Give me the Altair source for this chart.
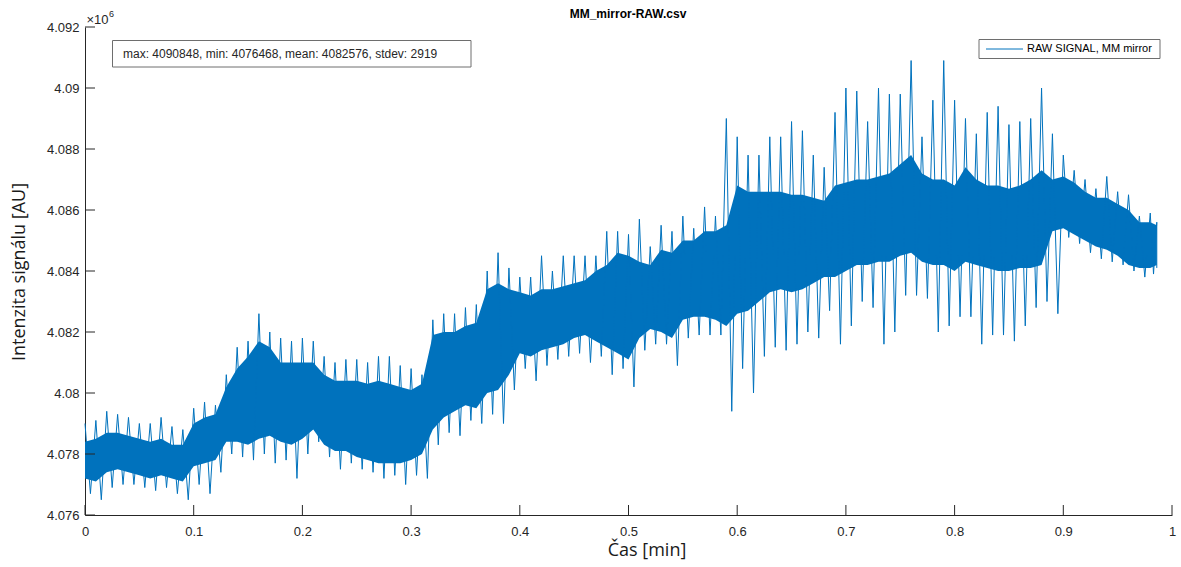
import altair as alt
import pandas as pd

# ---- data (values in units of 10^6) ----
time_min = [round(i / 100, 2) for i in range(99)] + [0.986]

spike_hi = [
    4.0790, 4.0791, 4.0794, 4.0793, 4.0792, 4.0790, 4.0790, 4.0792, 4.0789, 4.0788,
    4.0795, 4.0797, 4.0796, 4.0806, 4.0815, 4.0817, 4.0826, 4.0820, 4.0818, 4.0817,
    4.0818, 4.0817, 4.0812, 4.0810, 4.0811, 4.0811, 4.0810, 4.0812, 4.0812, 4.0809,
    4.0808, 4.0806, 4.0824, 4.0826, 4.0826, 4.0828, 4.0829, 4.0840, 4.0846, 4.0841,
    4.0838, 4.0838, 4.0845, 4.0840, 4.0845, 4.0845, 4.0845, 4.0845, 4.0853, 4.0853,
    4.0852, 4.0857, 4.0848, 4.0855, 4.0853, 4.0858, 4.0854, 4.0861, 4.0858, 4.0890,
    4.0884, 4.0878, 4.0878, 4.0884, 4.0884, 4.0889, 4.0886, 4.0878, 4.0874, 4.0892,
    4.0900, 4.0899, 4.0889, 4.0900, 4.0898, 4.0898, 4.0909, 4.0884, 4.0896, 4.0909,
    4.0896, 4.0890, 4.0885, 4.0892, 4.0894, 4.0888, 4.0889, 4.0890, 4.0900, 4.0885,
    4.0878, 4.0873, 4.0870, 4.0867, 4.0871, 4.0866, 4.0865, 4.0858, 4.0859, 4.0856,
]
core_hi = [
    4.0784, 4.0785, 4.0787, 4.0787, 4.0786, 4.0785, 4.0784, 4.0785, 4.0783, 4.0783,
    4.0790, 4.0792, 4.0793, 4.0802, 4.0808, 4.0812, 4.0817, 4.0815, 4.0810, 4.0810,
    4.0810, 4.0810, 4.0806, 4.0804, 4.0804, 4.0804, 4.0803, 4.0804, 4.0803, 4.0802,
    4.0801, 4.0803, 4.0819, 4.0820, 4.0820, 4.0822, 4.0823, 4.0834, 4.0836, 4.0834,
    4.0833, 4.0832, 4.0834, 4.0834, 4.0835, 4.0836, 4.0837, 4.0840, 4.0842, 4.0846,
    4.0845, 4.0843, 4.0842, 4.0847, 4.0846, 4.0850, 4.0850, 4.0853, 4.0853, 4.0855,
    4.0868, 4.0866, 4.0866, 4.0866, 4.0866, 4.0865, 4.0865, 4.0864, 4.0863, 4.0868,
    4.0869, 4.0870, 4.0870, 4.0871, 4.0872, 4.0875, 4.0878, 4.0872, 4.0870, 4.0870,
    4.0868, 4.0874, 4.0870, 4.0868, 4.0868, 4.0867, 4.0868, 4.0870, 4.0873, 4.0870,
    4.0871, 4.0869, 4.0866, 4.0864, 4.0864, 4.0862, 4.0860, 4.0856, 4.0856, 4.0855,
]
core_lo = [
    4.0772, 4.0771, 4.0774, 4.0775, 4.0774, 4.0773, 4.0772, 4.0773, 4.0772, 4.0771,
    4.0776, 4.0777, 4.0778, 4.0784, 4.0784, 4.0783, 4.0785, 4.0786, 4.0784, 4.0783,
    4.0785, 4.0788, 4.0783, 4.0781, 4.0781, 4.0779, 4.0778, 4.0777, 4.0777, 4.0777,
    4.0778, 4.0780, 4.0788, 4.0792, 4.0794, 4.0796, 4.0795, 4.0800, 4.0801, 4.0806,
    4.0813, 4.0812, 4.0814, 4.0815, 4.0816, 4.0818, 4.0819, 4.0817, 4.0815, 4.0813,
    4.0811, 4.0818, 4.0821, 4.0820, 4.0818, 4.0824, 4.0825, 4.0825, 4.0824, 4.0822,
    4.0826, 4.0827, 4.0830, 4.0833, 4.0834, 4.0833, 4.0834, 4.0836, 4.0838, 4.0838,
    4.0840, 4.0842, 4.0842, 4.0843, 4.0843, 4.0845, 4.0846, 4.0843, 4.0842, 4.0842,
    4.0840, 4.0843, 4.0842, 4.0841, 4.0840, 4.0840, 4.0841, 4.0841, 4.0842, 4.0853,
    4.0854, 4.0852, 4.0850, 4.0848, 4.0847, 4.0845, 4.0842, 4.0841, 4.0841, 4.0842,
]
spike_lo = [
    4.0767, 4.0765, 4.0769, 4.0770, 4.0770, 4.0769, 4.0768, 4.0769, 4.0767, 4.0765,
    4.0770, 4.0767, 4.0774, 4.0780, 4.0779, 4.0778, 4.0780, 4.0777, 4.0778, 4.0772,
    4.0780, 4.0784, 4.0779, 4.0775, 4.0777, 4.0775, 4.0774, 4.0772, 4.0773, 4.0770,
    4.0773, 4.0772, 4.0783, 4.0787, 4.0786, 4.0791, 4.0790, 4.0793, 4.0790, 4.0801,
    4.0808, 4.0804, 4.0809, 4.0811, 4.0812, 4.0813, 4.0810, 4.0812, 4.0806, 4.0808,
    4.0802, 4.0814, 4.0816, 4.0816, 4.0809, 4.0818, 4.0819, 4.0819, 4.0819, 4.0794,
    4.0808, 4.0800, 4.0812, 4.0815, 4.0814, 4.0816, 4.0820, 4.0818, 4.0827, 4.0816,
    4.0822, 4.0830, 4.0828, 4.0816, 4.0820, 4.0832, 4.0832, 4.0831, 4.0820, 4.0822,
    4.0825, 4.0825, 4.0816, 4.0819, 4.0819, 4.0817, 4.0822, 4.0828, 4.0830, 4.0826,
    4.0851, 4.0849, 4.0846, 4.0844, 4.0843, 4.0842, 4.0840, 4.0838, 4.0839, 4.0841,
]

x_ticks = [0, 0.1, 0.2, 0.3, 0.4, 0.5, 0.6, 0.7, 0.8, 0.9, 1.0]
y_ticks = [4.076, 4.078, 4.080, 4.082, 4.084, 4.086, 4.088, 4.090, 4.092]

title_text = "MM_mirror-RAW.csv"
stats_text = "max: 4090848, min: 4076468, mean: 4082576, stdev: 2919"
legend_label = "RAW SIGNAL, MM mirror"
x_title = "Čas [min]"
y_title = "Intenzita signálu [AU]"

BLUE = "#0072BD"
AX = "#262626"
W, H = 1087, 488

df = pd.DataFrame({"t": time_min, "hi": spike_hi, "chi": core_hi,
                   "clo": core_lo, "lo": spike_lo})
df["t_dn"] = ((df["t"] + df["t"].shift(-1)) / 2).fillna(df["t"])

# raw trace: alternating maxima / minima, in time order
n = len(df)
zig = pd.DataFrame({
    "t": list(df["t"]) + list(df["t_dn"]),
    "v": list(df["hi"]) + list(df["lo"]),
    "o": [2 * i for i in range(n)] + [2 * i + 1 for i in range(n)],
}).sort_values("o")

xscale = alt.Scale(domain=[0, 1], nice=False, zero=False)
yscale = alt.Scale(domain=[4.076, 4.092], nice=False, zero=False)
xaxis = alt.Axis(values=x_ticks, format="~g", title=None, grid=False, ticks=False,
                 labelFont="Liberation Sans", labelFontSize=13, labelColor=AX,
                 labelPadding=10, domainColor=AX, domainWidth=1, labelFlush=False)
yaxis = alt.Axis(values=y_ticks, format=".3~f", title=None, grid=False, ticks=False,
                 labelFont="Liberation Sans", labelFontSize=13, labelColor=AX,
                 labelPadding=6, domainColor=AX, domainWidth=1, labelFlush=False)


def X(field):
    return alt.X(field, type="quantitative", scale=xscale, axis=xaxis)


def Y(field):
    return alt.Y(field, type="quantitative", scale=yscale, axis=yaxis)


core = alt.Chart(df).mark_area(color=BLUE, opacity=1, interpolate="linear").encode(
    x=X("t"), y=Y("clo"), y2="chi")

trace = alt.Chart(zig).mark_line(color=BLUE, strokeWidth=1, interpolate="linear").encode(
    x=X("t"), y=Y("v"), order="o:Q")

xt = alt.Chart(pd.DataFrame({"v": x_ticks})).mark_rule(color=AX, strokeWidth=1).encode(
    x=X("v"), y=alt.value(H), y2=alt.value(H - 10))
yt = alt.Chart(pd.DataFrame({"v": y_ticks})).mark_rule(color=AX, strokeWidth=1).encode(
    y=Y("v"), x=alt.value(0), x2=alt.value(10))

one = pd.DataFrame({"k": [0]})

stats_box = alt.Chart(one).mark_rect(fill="white", stroke="#6e6e6e", strokeWidth=1).encode(
    x=alt.value(27.5), x2=alt.value(386), y=alt.value(13.5), y2=alt.value(40))
stats = alt.Chart(one).mark_text(text=stats_text, align="left", baseline="middle",
                                 font="Liberation Sans", fontSize=12, color=AX).encode(
    x=alt.value(38), y=alt.value(27))

leg_box = alt.Chart(one).mark_rect(fill="white", stroke="#6e6e6e", strokeWidth=1).encode(
    x=alt.value(894), x2=alt.value(1075), y=alt.value(12.5), y2=alt.value(31.5))
leg_line = alt.Chart(one).mark_rule(color=BLUE, strokeWidth=1).encode(
    x=alt.value(901), x2=alt.value(938), y=alt.value(22))
leg_text = alt.Chart(one).mark_text(text=legend_label, align="left", baseline="middle",
                                    font="Liberation Sans", fontSize=11, color="#000000").encode(
    x=alt.value(942), y=alt.value(22))

title = alt.Chart(one).mark_text(text=title_text, align="center", baseline="middle",
                                 font="Liberation Sans", fontSize=12, fontWeight="bold",
                                 color="#000000").encode(x=alt.value(543), y=alt.value(-13))
exp1 = alt.Chart(one).mark_text(text="×10", align="left", baseline="alphabetic",
                                font="Liberation Sans", fontSize=13, color=AX).encode(
    x=alt.value(1.5), y=alt.value(-3))
exp2 = alt.Chart(one).mark_text(text="6", align="left", baseline="alphabetic",
                                font="Liberation Sans", fontSize=9, color=AX).encode(
    x=alt.value(24), y=alt.value(-10))

xlab = alt.Chart(one).mark_text(text=x_title, align="center", baseline="middle",
                                font="Open Sans", fontSize=18, color="#1a1a1a").encode(
    x=alt.value(562), y=alt.value(524))
ylab = alt.Chart(one).mark_text(text=y_title, align="center", baseline="middle", angle=270,
                                font="Open Sans", fontSize=18, color="#1a1a1a").encode(
    x=alt.value(-65), y=alt.value(245))

chart = alt.layer(core, trace, xt, yt, stats_box, stats, leg_box, leg_line, leg_text,
                  title, exp1, exp2, xlab, ylab).properties(
    width=W, height=H,
    autosize=alt.AutoSizeParams(type="none"),
    padding={"left": 85, "top": 27, "right": 9, "bottom": 52},
    background="white",
).configure_view(stroke=None)

chart.save("out.html", embed_options={"renderer": "svg", "actions": False})
